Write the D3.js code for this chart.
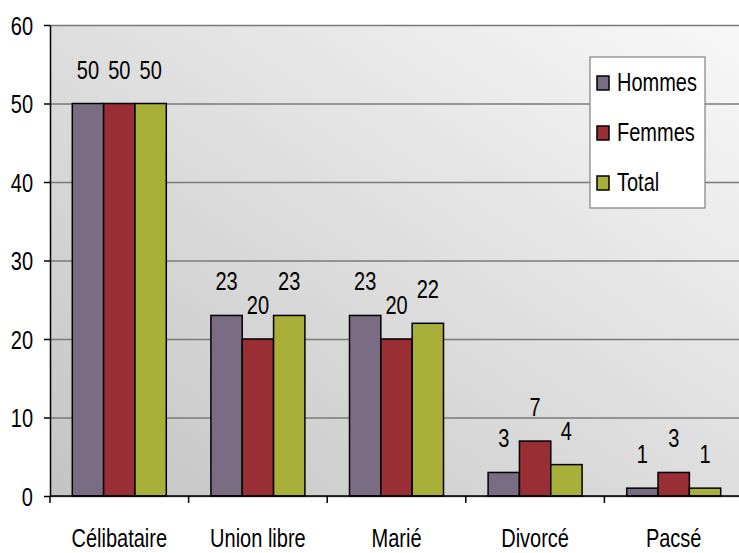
<!DOCTYPE html>
<html lang="fr">
<head>
<meta charset="UTF-8">
<title>Situation familiale</title>
<script src="https://cdn.jsdelivr.net/npm/d3@7"></script>
<style>
  body { margin: 0; background: #fff; }
  text { font-family: "Liberation Sans", Arial, sans-serif; fill: #000; }
</style>
</head>
<body>
<script>
var categories = ["Célibataire", "Union libre", "Marié", "Divorcé", "Pacsé"];
var series = ["Hommes", "Femmes", "Total"];
var hommes = [50, 23, 23, 3, 1];
var femmes = [50, 20, 20, 7, 3];
var total = [50, 23, 22, 4, 1];
var yTicks = [0, 10, 20, 30, 40, 50, 60];
var colors = ["#7a6c82", "#9a2e35", "#a9b03a"];

var values = [hommes, femmes, total];
var W = 739, H = 553;
var plotL = 50, plotR = 743, plotT = 25, plotB = 496;
var fs = "25px", squash = " scale(0.8,1)";

var svg = d3.select("body").append("svg").attr("width", W).attr("height", H);

var grad = svg.append("defs").append("linearGradient")
  .attr("id", "bg").attr("x1", "0%").attr("y1", "100%").attr("x2", "100%").attr("y2", "0%");
grad.append("stop").attr("offset", "0%").attr("stop-color", "#c4c4c4");
grad.append("stop").attr("offset", "100%").attr("stop-color", "#f8f8f8");

var x = d3.scaleBand().domain(categories).range([plotL, plotR]);
var sub = d3.scaleBand().domain(series)
  .range([x.bandwidth() / 2 - 47, x.bandwidth() / 2 + 47]);
var y = d3.scaleLinear().domain([0, 60]).range([plotB, plotT]);

svg.append("rect")
  .attr("x", plotL).attr("y", plotT).attr("width", plotR - plotL).attr("height", plotB - plotT)
  .attr("fill", "url(#bg)");

// gridlines
svg.append("g")
  .attr("transform", "translate(" + plotL + ",0)")
  .call(d3.axisLeft(y).tickValues(yTicks).tickSize(-(plotR - plotL)).tickFormat(""))
  .call(function(g) {
    g.select(".domain").remove();
    g.selectAll("line").attr("stroke", "#7a7a7a").attr("stroke-width", 1.6);
  });

// bars
var groups = svg.selectAll(".grp").data(categories).enter().append("g")
  .attr("transform", function(d) { return "translate(" + x(d) + ",0)"; });

series.forEach(function(s, si) {
  groups.append("rect")
    .attr("x", function(d) { return sub(s); })
    .attr("width", sub.bandwidth())
    .attr("y", function(d, i) { return y(values[si][i]); })
    .attr("height", function(d, i) { return plotB - y(values[si][i]); })
    .attr("fill", colors[si])
    .attr("stroke", "#000").attr("stroke-width", 1.5);
  groups.append("text")
    .attr("transform", function(d, i) {
      return "translate(" + (sub(s) + sub.bandwidth() / 2) + "," + (y(values[si][i]) - 25) + ")" + squash;
    })
    .attr("text-anchor", "middle")
    .style("font-size", fs)
    .text(function(d, i) { return values[si][i]; });
});

// y axis
var yAxis = svg.append("g")
  .attr("transform", "translate(" + plotL + ",0)")
  .call(d3.axisLeft(y).tickValues(yTicks).tickSize(6).tickSizeOuter(0).tickPadding(0));
yAxis.select(".domain").attr("stroke", "#000").attr("stroke-width", 1.5);
yAxis.selectAll(".tick line").attr("stroke", "#000").attr("stroke-width", 1.5);
yAxis.selectAll(".tick text")
  .attr("x", null).attr("dy", null)
  .attr("transform", "translate(-17,9)" + squash)
  .style("font-size", fs).attr("fill", "#000");

// x axis
svg.append("line")
  .attr("x1", plotL).attr("x2", plotR).attr("y1", plotB).attr("y2", plotB)
  .attr("stroke", "#000").attr("stroke-width", 1.5);
svg.selectAll(".xtick").data(categories).enter().append("line")
  .attr("x1", function(d) { return x(d); }).attr("x2", function(d) { return x(d); })
  .attr("y1", plotB).attr("y2", plotB + 7)
  .attr("stroke", "#000").attr("stroke-width", 1.5);
svg.selectAll(".xlab").data(categories).enter().append("text")
  .attr("transform", function(d) {
    return "translate(" + (x(d) + x.bandwidth() / 2) + ",547)" + squash;
  })
  .attr("text-anchor", "middle")
  .style("font-size", fs)
  .text(function(d) { return d; });

// legend
var lg = svg.append("g").attr("transform", "translate(590,57)");
lg.append("rect").attr("width", 115).attr("height", 151)
  .attr("fill", "#fff").attr("stroke", "#808080").attr("stroke-width", 1.2);
series.forEach(function(s, i) {
  var ry = 25 + i * 50;
  lg.append("rect").attr("x", 7).attr("y", ry - 6).attr("width", 12).attr("height", 14)
    .attr("fill", colors[i]).attr("stroke", "#000").attr("stroke-width", 1.5);
  lg.append("text")
    .attr("transform", "translate(27," + (ry + 9) + ")" + squash)
    .style("font-size", fs)
    .text(s);
});
</script>
</body>
</html>
